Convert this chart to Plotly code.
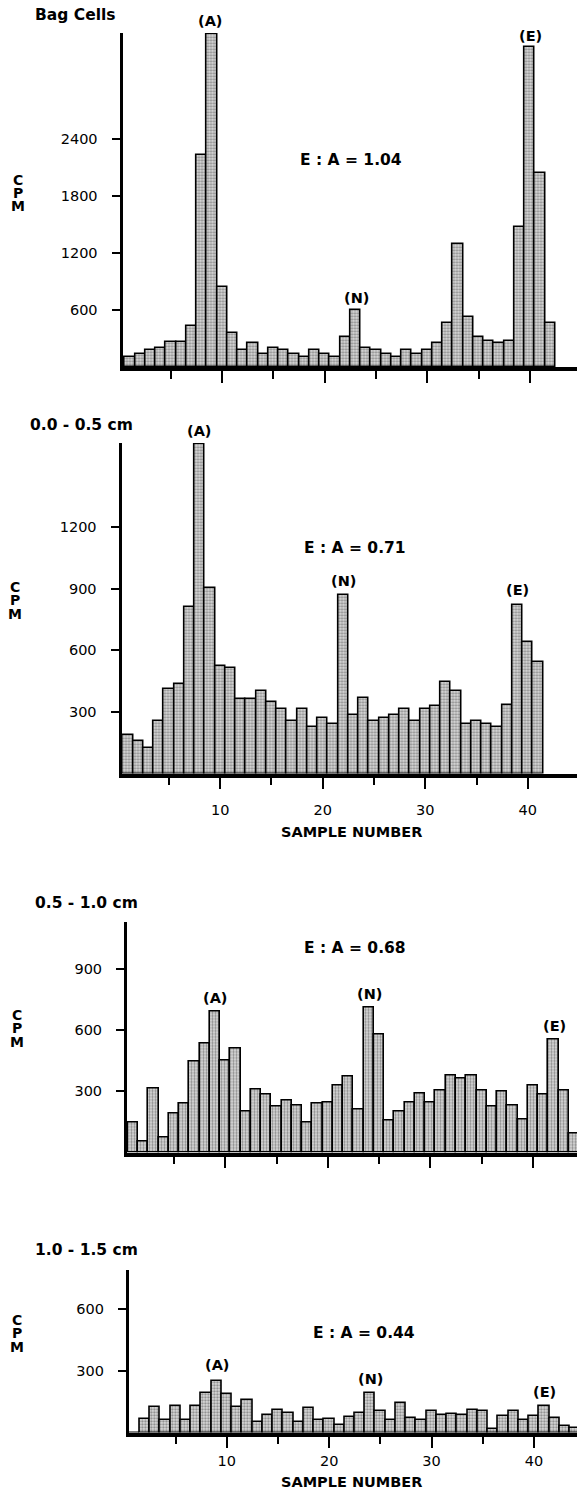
import plotly.graph_objects as go

W, H = 577, 1500

# ---------------- data ----------------
bag_cells = [110, 140, 175, 205, 265, 265, 435, 2235, 3510, 840, 355, 180, 250, 140,
             205, 180, 140, 110, 180, 140, 110, 320, 600, 205, 180, 140, 110, 180,
             140, 180, 250, 460, 1290, 530, 320, 275, 250, 275, 1470, 3365, 2045, 465]
cm_00_05 = [190, 160, 125, 255, 410, 435, 810, 1605, 905, 525, 515, 365, 365, 400,
            350, 315, 255, 315, 225, 270, 240, 870, 285, 370, 255, 270, 285, 315,
            255, 315, 330, 445, 400, 240, 255, 240, 225, 335, 820, 640, 545]
cm_05_10 = [147, 54, 316, 74, 193, 239, 446, 536, 692, 451, 512, 201, 311, 283,
            226, 253, 231, 147, 239, 245, 329, 373, 209, 711, 580, 155, 201, 245,
            291, 245, 304, 376, 361, 376, 304, 226, 298, 232, 164, 327, 283, 553,
            304, 95]
cm_10_15 = [0, 65, 123, 62, 131, 62, 130, 191, 251, 186, 123, 156, 49, 86,
            110, 97, 49, 117, 62, 68, 37, 75, 94, 191, 105, 62, 143, 70,
            62, 105, 86, 91, 86, 110, 105, 16, 78, 105, 62, 78, 131, 70,
            34, 21]

panel_titles = ["Bag Cells", "0.0 - 0.5 cm", "0.5 - 1.0 cm", "1.0 - 1.5 cm"]
ratios = ["E : A = 1.04", "E : A = 0.71", "E : A = 0.68", "E : A = 0.44"]
y_ticks = [[600, 1200, 1800, 2400], [300, 600, 900, 1200], [300, 600, 900], [300, 600]]
x_major = [10, 20, 30, 40]
x_minor = [5, 15, 25, 35]
series = [bag_cells, cm_00_05, cm_05_10, cm_10_15]

# ---------------- layout geometry (pixels) ----------------
panels = [
    dict(left=122.5, top=33, bottom=367, xr=[0.28, 44.6], ymax=3516, labels=False, standoff=8),
    dict(left=121.5, top=443, bottom=773.5, xr=[0.37, 44.8], ymax=1610, labels=True, standoff=8),
    dict(left=127, top=921.5, bottom=1152.5, xr=[0.42, 44.3], ymax=1133, labels=False, standoff=8),
    dict(left=128.8, top=1270, bottom=1432.5, xr=[0.43, 44.2], ymax=791, labels=True, standoff=0),
]

def px(x):
    return x / W

def py(y):
    return 1 - y / H

FONT = "DejaVu Sans"

fig = go.Figure()
layout = dict(width=W, height=H, margin=dict(l=0, r=0, t=0, b=0),
              paper_bgcolor="white", plot_bgcolor="white", showlegend=False,
              bargap=0, font=dict(family=FONT, color="black"))

for i, (p, vals) in enumerate(zip(panels, series)):
    n = i + 1
    xa = "x" if n == 1 else f"x{n}"
    ya = "y" if n == 1 else f"y{n}"
    fig.add_trace(go.Bar(
        x=list(range(1, len(vals) + 1)), y=vals, width=1.0,
        xaxis=xa, yaxis=ya,
        marker=dict(color="#d8d8d8",
                    line=dict(color="black", width=1.6),
                    pattern=dict(shape=".", size=3, solidity=0.45,
                                 fgcolor="#3a3a3a", bgcolor="#dcdcdc")),
    ))
    xk = "xaxis" if n == 1 else f"xaxis{n}"
    yk = "yaxis" if n == 1 else f"yaxis{n}"
    layout[xk] = dict(
        domain=[px(p["left"]), 1], range=p["xr"], anchor=ya,
        showline=True, linewidth=3.5, linecolor="black",
        showgrid=False, zeroline=False,
        tickmode="array", tickvals=x_major, ticks="outside",
        ticklen=12, tickwidth=2.2, tickcolor="black",
        showticklabels=p["labels"], ticklabelstandoff=p["standoff"],
        tickfont=dict(family=FONT, size=14.5, color="black"),
        minor=dict(tickmode="array", tickvals=x_minor, ticks="outside",
                   ticklen=8, tickwidth=1.6, tickcolor="black"),
    )
    layout[yk] = dict(
        domain=[py(p["bottom"]), py(p["top"])], range=[0, p["ymax"]], anchor=xa,
        showline=True, linewidth=3, linecolor="black",
        showgrid=False, zeroline=False,
        tickmode="array", tickvals=y_ticks[i], ticks="outside",
        ticklen=8, tickwidth=2, tickcolor="black",
        ticklabelstandoff=11,
        tickfont=dict(family=FONT, size=14.5, color="black"),
    )

fig.update_layout(**layout)

ann = []

def text(x, y, t, size=13, bold=True, xanchor="center"):
    s = f"<b>{t}</b>" if bold else t
    ann.append(dict(x=px(x), y=py(y), xref="paper", yref="paper", text=s,
                    showarrow=False, xanchor=xanchor, yanchor="middle",
                    font=dict(family=FONT, size=size, color="black")))

# panel titles
title_pos = [(33, 15), (28, 425), (33, 903), (33, 1250)]
for t, (x, y) in zip(panel_titles, title_pos):
    text(x, y, t, size=15.5, xanchor="left")

# ratios
ratio_pos = [(351, 160), (355, 548), (355, 948), (364, 1333)]
for t, (x, y) in zip(ratios, ratio_pos):
    text(x, y, t, size=15.5)

# peak labels
peak_pos = [
    [("(A)", 210, 21), ("(N)", 356, 298), ("(E)", 530, 36)],
    [("(A)", 199, 431), ("(N)", 343, 581), ("(E)", 517, 590)],
    [("(A)", 214.5, 998), ("(N)", 369, 994), ("(E)", 554.5, 1026)],
    [("(A)", 217, 1365), ("(N)", 370.5, 1379), ("(E)", 544.5, 1392)],
]
for lst in peak_pos:
    for t, x, y in lst:
        text(x, y, t, size=14.5)

# stacked CPM axis labels
cpm_pos = [(18, 193), (15, 600), (17, 1028), (17, 1333)]
for x, yc in cpm_pos:
    for k, ch in enumerate("CPM"):
        text(x, yc + (k - 1) * 13.5, ch, size=14)

# x-axis titles
text(351, 832, "SAMPLE NUMBER", size=14.5)
text(351, 1482, "SAMPLE NUMBER", size=14.5)

fig.update_layout(annotations=ann)
fig.write_html("out.html")
